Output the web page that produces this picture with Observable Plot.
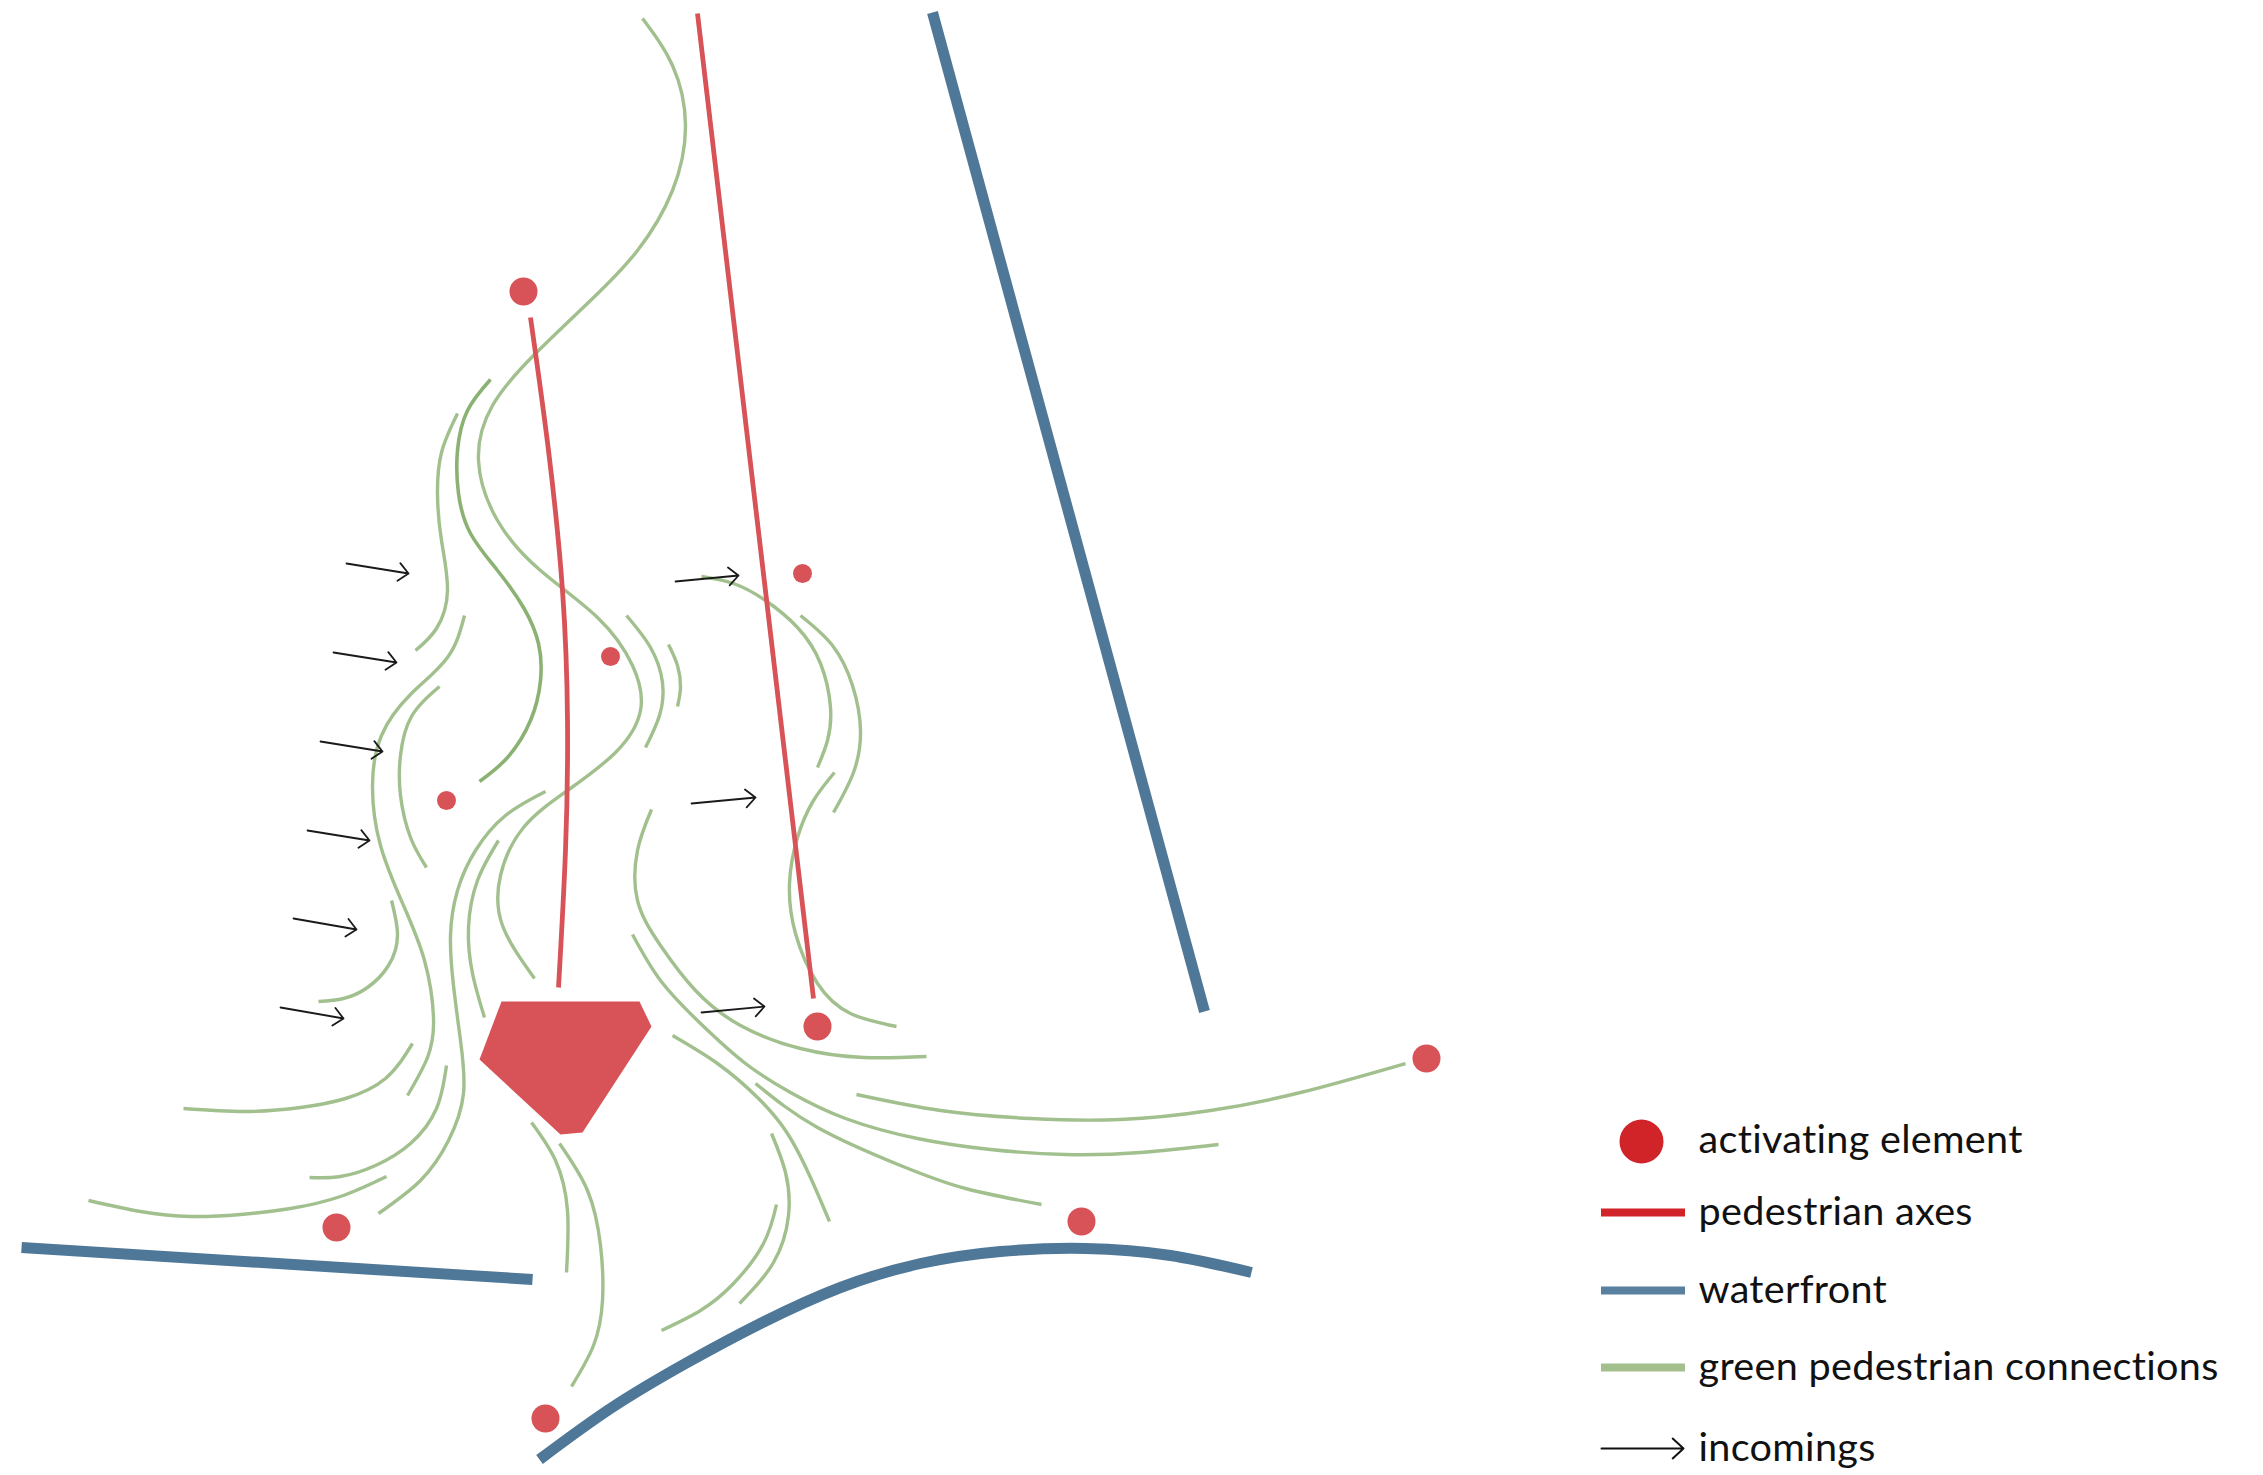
<!DOCTYPE html>
<html>
<head>
<meta charset="utf-8">
<script src="https://cdn.jsdelivr.net/npm/d3@7"></script>
<script src="https://cdn.jsdelivr.net/npm/@observablehq/plot@0.6"></script>
<style>
html,body{margin:0;padding:0;background:#fff}
svg{display:block}
svg text{font-variant-ligatures:none;letter-spacing:0.3px}
</style>
</head>
<body>
<div id="chart"></div>
<script>
const greenPaths = [
 [[642,18],[672,65],[685,125],[672,190],[637,250],[590,300],[533,355],[492,405],[478,460],[497,520],[540,570],[597,617],[632,665],[640,710],[615,752],[567,790],[523,827],[500,875],[502,925],[534,978]],
 [[457,413],[441,452],[437,495],[441,540],[447,590],[436,628],[415,650]],
 [[464,615],[447,657],[410,694],[381,735],[372,785],[380,845],[403,905],[424,960],[433,1017],[427,1057],[407,1095]],
 [[439,686],[411,716],[400,755],[400,795],[410,837],[426,867]],
 [[391,900],[397,935],[388,965],[367,987],[343,998],[318,1001]],
 [[545,791],[505,815],[475,850],[457,890],[450,935],[453,985],[460,1040],[463,1093],[448,1140],[420,1180],[378,1213]],
 [[498,840],[477,880],[468,927],[472,973],[484,1017]],
 [[412,1043],[385,1078],[345,1098],[300,1107],[245,1111],[183,1108]],
 [[446,1065],[436,1108],[410,1143],[375,1165],[340,1176],[309,1177]],
 [[386,1176],[340,1196],[290,1208],[240,1214],[190,1216],[140,1211],[88,1200]],
 [[531,1122],[555,1160],[567,1210],[566,1272]],
 [[559,1143],[587,1190],[600,1245],[602,1300],[593,1345],[571,1386]],
 [[626,615],[650,647],[662,682],[659,715],[645,747]],
 [[668,644],[677,665],[680,687],[677,706]],
 [[701,576],[733,583],[765,600],[797,627],[820,663],[830,707],[827,740],[817,767]],
 [[800,615],[832,645],[852,685],[860,730],[853,772],[833,812]],
 [[834,772],[813,800],[797,837],[789,883],[795,933],[817,983],[850,1013],[896,1026]],
 [[651,809],[637,850],[637,900],[660,945],[695,990],[740,1025],[800,1048],[863,1057],[926,1056]],
 [[632,934],[660,980],[700,1023],[745,1063],[790,1092],[845,1118],[917,1138],[990,1149],[1065,1154],[1140,1152],[1218,1144]],
 [[856,1094],[940,1110],[1030,1118],[1120,1119],[1210,1110],[1300,1092],[1405,1063]],
 [[755,1083],[817,1127],[900,1165],[965,1188],[1041,1204]],
 [[672,1035],[717,1063],[757,1097],[787,1133],[810,1177],[829,1221]],
 [[771,1133],[785,1172],[788,1215],[773,1262],[739,1303]],
 [[776,1204],[763,1243],[733,1283],[700,1310],[661,1330]]
];
const darkGreenPaths = [
 [[490,379],[467,410],[457,450],[458,493],[470,533],[497,570],[523,607],[538,643],[540,680],[530,720],[507,757],[479,781]]
];
const redPaths = [
 [[530,317],[548,450],[562,590],[567,720],[565,850],[558,987]],
 [[697,13],[813,998]]
];
const bluePaths = [
 [[932,12],[1204,1011]],
 [[21,1247],[532,1279]],
 [[539,1459],[610,1408],[685,1363],[760,1323],[840,1287],[920,1263],[1000,1251],[1085,1248],[1170,1255],[1251,1272]]
];
const plaza = [[501,1001],[639,1001],[651,1026],[582,1132],[560,1134],[479,1059],[501,1001]];
const largeDots = [[523,291],[817,1026],[1426,1058],[1081,1221],[336,1227],[545,1418]];
const smallDots = [[610,656],[446,800],[802,573]];
const arrows = [
 [346,563,408,573],[333,652,396,662],[320,741,382,751],[307,830,369,840],
 [293,918,356,929],[280,1007,343,1018],[675,581,738,575],[691,803,755,797],[701,1012,764,1006]
];
const legendLabels = ["activating element","pedestrian axes","waterfront","green pedestrian connections","incomings"];
const legendY = [1140,1212,1290,1367,1448];
const legendSymbolY = [1141,1212,1290,1367,1448];

const flat = ps => ps.flatMap((p,i) => p.map(([x,y]) => ({x,y,id:i})));
const lineOpts = (stroke,strokeWidth,curve) => ({x:"x",y:"y",z:"id",stroke,strokeWidth,curve,strokeLinecap:"butt"});
const legendSwatch = (i,stroke) => Plot.ruleY([legendSymbolY[i]],{x1:1601,x2:1685,stroke,strokeWidth:8});

const chart = Plot.plot({
  width:2263, height:1475, margin:0,
  x:{domain:[0,2263],range:[0,2263],axis:null},
  y:{domain:[0,1475],range:[0,1475],axis:null},
  style:{background:"#fff"},
  marks:[
    Plot.line(flat(greenPaths),lineOpts("#a1c08e",3.4,"natural")),
    Plot.line(flat(darkGreenPaths),lineOpts("#8bb273",3.6,"natural")),
    Plot.arrow(arrows,{x1:d=>d[0],y1:d=>d[1],x2:d=>d[2],y2:d=>d[3],stroke:"#1a1a1a",strokeWidth:1.8,headLength:11,headAngle:85,bend:0}),
    Plot.line(flat(redPaths),lineOpts("#d75358",4.8,"natural")),
    Plot.line(flat(bluePaths),lineOpts("#4f7898",11,"natural")),
    Plot.line(plaza,{x:d=>d[0],y:d=>d[1],fill:"#d75358",stroke:"none"}),
    Plot.dot(largeDots,{x:d=>d[0],y:d=>d[1],r:14,fill:"#d75358"}),
    Plot.dot(smallDots,{x:d=>d[0],y:d=>d[1],r:9.5,fill:"#d75358"}),
    Plot.dot([legendSymbolY[0]],{x:()=>1641,y:d=>d,r:22,fill:"#d02428"}),
    legendSwatch(1,"#d02428"),
    legendSwatch(2,"#5a80a0"),
    legendSwatch(3,"#a2bf8c"),
    Plot.arrow([legendSymbolY[4]],{x1:()=>1601,x2:()=>1683,y1:d=>d,y2:d=>d,stroke:"#111",strokeWidth:2,headLength:11,headAngle:85,bend:0}),
    Plot.text(legendLabels,{x:()=>1698,y:(d,i)=>legendY[i],text:d=>d,textAnchor:"start",lineAnchor:"middle",fontFamily:"Lato",fontSize:39.6,fill:"#111"})
  ]
});
document.getElementById("chart").append(chart);
</script>
</body>
</html>
